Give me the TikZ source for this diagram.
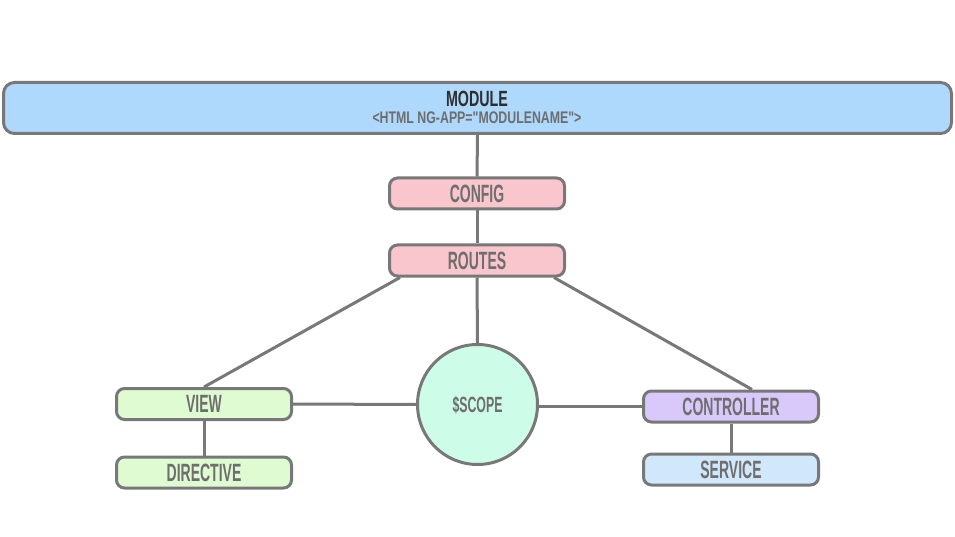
\documentclass[tikz,border=0pt]{standalone}
\usepackage{fontspec}
\newfontfamily\bebas[FakeStretch=0.56]{Liberation Sans}
\newfontfamily\bebastitle[FakeStretch=0.65]{Liberation Sans}
\newfontfamily\bebassub[FakeStretch=0.735]{Liberation Sans}
\definecolor{edge}{HTML}{787878}
\definecolor{txt}{HTML}{6E6E6E}
\definecolor{dark}{HTML}{2E2E2E}
\definecolor{modfill}{HTML}{AED8FC}
\definecolor{pinkfill}{HTML}{F9C6CD}
\definecolor{greenfill}{HTML}{DEFBD2}
\definecolor{mintfill}{HTML}{CDFCE8}
\definecolor{purplefill}{HTML}{D9C9FA}
\definecolor{bluefill}{HTML}{D1E7FC}
\begin{document}
\begin{tikzpicture}[x=1pt,y=-1pt,
  box/.style={draw=edge, line width=3pt, rounded corners=8pt,
    minimum width=175pt, minimum height=31pt, inner sep=0pt,
    text height=17.9pt, text depth=0pt,
    font=\bebas\bfseries\fontsize{25}{27}\selectfont, text=txt},
  conn/.style={draw=edge, line width=3pt}]
\useasboundingbox (0,0) rectangle (955,537);
\fill[white] (0,0) rectangle (955,537);

\node[draw=edge, line width=3pt, rounded corners=11pt, fill=modfill,
  minimum width=948pt, minimum height=51pt, inner sep=0pt] (module) at (477.5,108) {};
\node[inner sep=0pt, text height=15.7pt, text depth=0pt, text=dark,
  font=\bebastitle\bfseries\fontsize{22}{24}\selectfont] (modtitle) at (477,98.3) {MODULE};
\node[inner sep=0pt, text height=12pt, text depth=0pt, text=txt,
  font=\bebassub\bfseries\fontsize{16.8}{18}\selectfont] (modsub) at (477,117.3) {<HTML NG-APP="MODULENAME">};

\node[box, fill=pinkfill] (config) at (477,193.5) {CONFIG};
\node[box, fill=pinkfill] (routes) at (477,260.5) {ROUTES};
\node[box, fill=greenfill] (view) at (204,404) {VIEW};
\node[box, fill=greenfill] (directive) at (204,472.5) {DIRECTIVE};
\node[box, fill=purplefill] (controller) at (731,406.5) {CONTROLLER};
\node[box, fill=bluefill] (service) at (731,469.5) {SERVICE};
\node[circle, draw=edge, line width=3pt, fill=mintfill, minimum size=120pt,
  inner sep=0pt, text height=15.8pt, text depth=0pt, text=txt,
  font=\bebas\bfseries\fontsize{22}{24}\selectfont] (scope) at (477.5,404.5) {\$SCOPE};

\draw[conn] (module.south) -- (config.north);
\draw[conn] (config.south) -- (routes.north);
\draw[conn] (routes.south) -- (scope.north);
\draw[conn] ([xshift=12pt]routes.south west) -- (view.north);
\draw[conn] ([xshift=-12pt]routes.south east) -- ([xshift=21pt]controller.north);
\draw[conn] (view.east) -- (scope.west);
\draw[conn] (scope.east |- controller.west) -- (controller.west);
\draw[conn] (view.south) -- (directive.north);
\draw[conn] (controller.south) -- (service.north);
\end{tikzpicture}
\end{document}
